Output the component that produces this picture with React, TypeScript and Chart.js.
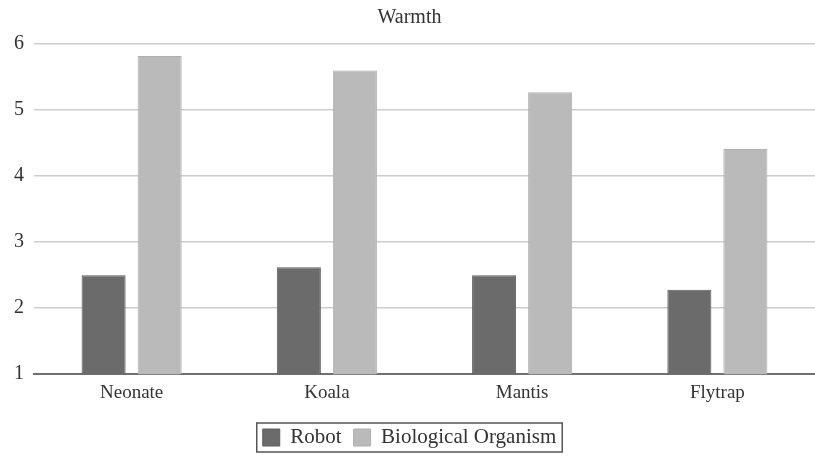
import React, { useEffect, useRef } from "react";
import { Chart, registerables } from "chart.js";

Chart.register(...registerables);

const categories = ["Neonate", "Koala", "Mantis", "Flytrap"];
const robotValues = [2.5, 2.62, 2.5, 2.28];
const bioValues = [5.82, 5.6, 5.27, 4.41];
const seriesNames = ["Robot", "Biological Organism"];
const titleText = "Warmth";

const FONT = "'Liberation Serif', 'DejaVu Serif', serif";

const legendBorder = {
  id: "legendBorder",
  afterDraw(chart: any) {
    const lg = chart.legend;
    if (!lg || !lg.legendHitBoxes || !lg.legendHitBoxes.length) return;
    const boxes = lg.legendHitBoxes;
    let l = Infinity, r = -Infinity, t = Infinity, b = -Infinity;
    for (const h of boxes) {
      l = Math.min(l, h.left);
      r = Math.max(r, h.left + h.width);
      t = Math.min(t, h.top);
      b = Math.max(b, h.top + h.height);
    }
    const ctx = chart.ctx;
    ctx.save();
    ctx.strokeStyle = "#555";
    ctx.lineWidth = 1.5;
    ctx.strokeRect(l - 6, t - 4, r - l + 12, b - t + 8);
    ctx.restore();
  },
};

export default function App() {
  const ref = useRef<HTMLCanvasElement>(null);
  useEffect(() => {
    document.body.style.margin = "0";
    const ctx = ref.current!.getContext("2d")!;
    const chart = new Chart(ctx, {
      type: "bar",
      data: {
        labels: categories,
        datasets: [
          {
            label: seriesNames[0],
            data: robotValues,
            backgroundColor: "#6b6b6b",
            borderColor: "#5e5e5e",
            borderWidth: 1,
            barPercentage: 0.786,
            categoryPercentage: 0.574,
          },
          {
            label: seriesNames[1],
            data: bioValues,
            backgroundColor: "#bababa",
            borderColor: "#b0b0b0",
            borderWidth: 1,
            barPercentage: 0.786,
            categoryPercentage: 0.574,
          },
        ],
      },
      options: {
        animation: false,
        responsive: false,
        maintainAspectRatio: false,
        layout: { padding: { left: 4, right: 0, top: 0, bottom: 1 } },
        plugins: {
          title: {
            display: true,
            text: titleText,
            color: "#333",
            font: { family: FONT, size: 20, weight: "normal" },
            padding: { top: 6, bottom: 14 },
          },
          legend: {
            position: "bottom",
            labels: {
              color: "#333",
              font: { family: FONT, size: 21 },
              boxWidth: 17,
              boxHeight: 17,
              padding: 12,
            },
          },
          tooltip: { enabled: false },
        },
        scales: {
          x: {
            grid: { display: false, drawTicks: false },
            border: { display: true, color: "#707070", width: 2 },
            ticks: { color: "#333", font: { family: FONT, size: 19 }, padding: 7 },
            afterFit(scale: any) {
              scale.height += 4;
            },
          },
          y: {
            min: 1,
            max: 6,
            ticks: {
              stepSize: 1,
              color: "#333",
              font: { family: FONT, size: 20 },
              padding: 10,
            },
            grid: { color: "#cdcdcd", lineWidth: 1.5, drawTicks: false },
            border: { display: false },
          },
        },
      },
      plugins: [legendBorder],
    });
    return () => chart.destroy();
  }, []);
  return (
    <div style={{ width: 815, height: 459 }}>
      <canvas ref={ref} width={815} height={459} style={{ display: "block" }} />
    </div>
  );
}
